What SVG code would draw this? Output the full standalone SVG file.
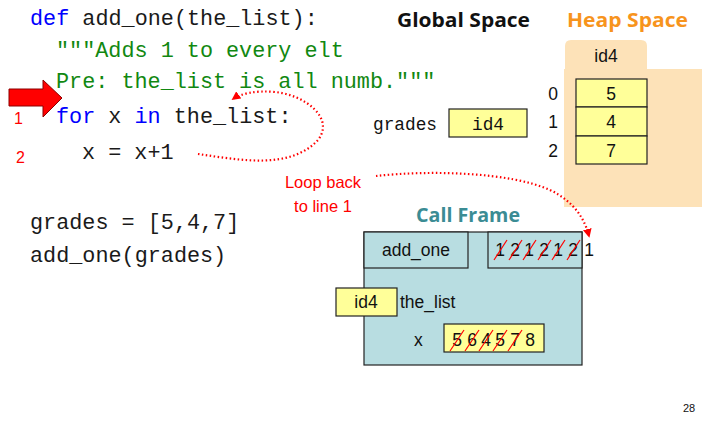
<svg xmlns="http://www.w3.org/2000/svg" width="702" height="429" viewBox="0 0 702 429">
  <style>
    .code { font-family: "Liberation Mono", "DejaVu Sans Mono", monospace; font-size: 21.8px; fill: #1a1a1a; }
    .kw { fill: #0000ff; }
    .doc { fill: #118811; }
    .sans { font-family: "Liberation Sans", Arial, sans-serif; }
    .title { font-family: "Open Sans", "Liberation Sans", sans-serif; font-weight: bold; font-size: 19px; }
    .lbl { font-family: "Liberation Sans", Arial, sans-serif; font-size: 17.5px; fill: #111; }
    .mono16 { font-family: "Liberation Mono", "DejaVu Sans Mono", monospace; font-size: 17.8px; fill: #111; }
    .cell { fill: #ffff99; stroke: #222; stroke-width: 1.2; }
    .frame { fill: #b8dde1; stroke: #222; stroke-width: 1.2; }
    .red { fill: #ff0000; }
    .dots { fill: none; stroke: #ff0000; stroke-width: 2.2; stroke-dasharray: 1.5 2.5; }
    .slash { stroke: #ff0000; stroke-width: 1.2; }
  </style>
  <defs>
    <marker id="tip" viewBox="0 0 10 10" refX="8" refY="5" markerWidth="4" markerHeight="4" orient="auto">
      <path d="M0,0 L10,5 L0,10 z" fill="#ff0000"/>
    </marker>
  </defs>

  <rect width="702" height="429" fill="#ffffff"/>

  <!-- source code -->
  <g id="code">
    <text class="code" x="30" y="25"><tspan class="kw">def</tspan> add_one(the_list):</text>
    <text class="code doc" x="56" y="57">"""Adds 1 to every elt</text>
    <text class="code doc" x="56" y="88">Pre: the_list is all numb."""</text>
    <text class="code" x="56" y="123"><tspan class="kw">for</tspan> x <tspan class="kw">in</tspan> the_list:</text>
    <text class="code" x="82" y="159">x = x+1</text>
    <text class="code" x="30" y="229">grades = [5,4,7]</text>
    <text class="code" x="30" y="262">add_one(grades)</text>
    <text class="sans red" x="14" y="124" font-size="16">1</text>
    <text class="sans red" x="16" y="163" font-size="16">2</text>
  </g>

  <!-- current-line pointer -->
  <g id="pointer">
    <polygon points="9,89 43,89 43,80 62,98 43,117 43,106 9,106" fill="#ff0000" stroke="#8b0000" stroke-width="1"/>
  </g>

  <!-- section titles -->
  <g id="titles">
    <text class="title" x="397" y="27" fill="#111" textLength="133" lengthAdjust="spacingAndGlyphs">Global  Space</text>
    <text class="title" x="567" y="27" fill="#f7941d" textLength="121" lengthAdjust="spacingAndGlyphs">Heap  Space</text>
    <text class="title" x="416" y="222" fill="#3b8c94" textLength="104" lengthAdjust="spacingAndGlyphs">Call Frame</text>
  </g>

  <!-- heap: list object id4 -->
  <g id="heap">
    <path d="M565,69 L565,46 Q565,40 571,40 L641,40 Q647,40 647,46 L647,69 Z" fill="#fde2b8"/>
    <rect x="564" y="69" width="138" height="138" fill="#fde2b8"/>
    <text class="lbl" x="606" y="62" text-anchor="middle">id4</text>
    <rect class="cell" x="576" y="79" width="71" height="28"/>
    <rect class="cell" x="576" y="107" width="71" height="29"/>
    <rect class="cell" x="576" y="136" width="71" height="28"/>
    <text class="lbl" x="611" y="100" text-anchor="middle">5</text>
    <text class="lbl" x="611" y="128" text-anchor="middle">4</text>
    <text class="lbl" x="611" y="157" text-anchor="middle">7</text>
    <text class="lbl" x="553" y="100" text-anchor="middle">0</text>
    <text class="lbl" x="553" y="128" text-anchor="middle">1</text>
    <text class="lbl" x="553" y="157" text-anchor="middle">2</text>
  </g>

  <!-- global variable grades -->
  <g id="global-grades">
    <text class="mono16" x="373" y="130">grades</text>
    <rect class="cell" x="449" y="109" width="78" height="28"/>
    <text class="mono16" x="488" y="130" text-anchor="middle">id4</text>
  </g>

  <!-- call frame for add_one -->
  <g id="frame">
    <rect class="frame" x="364" y="232" width="218" height="133"/>
    <rect class="frame" x="364" y="232" width="104" height="36"/>
    <rect class="frame" x="488" y="232" width="94" height="36"/>
    <text class="lbl" x="416" y="256" text-anchor="middle">add_one</text>
    <g class="lbl">
      <text x="500" y="256" text-anchor="middle">1</text>
      <text x="515" y="256" text-anchor="middle">2</text>
      <text x="529" y="256" text-anchor="middle">1</text>
      <text x="544" y="256" text-anchor="middle">2</text>
      <text x="558" y="256" text-anchor="middle">1</text>
      <text x="573" y="256" text-anchor="middle">2</text>
      <text x="589" y="256" text-anchor="middle">1</text>
    </g>
    <g class="slash">
      <line x1="494" y1="260" x2="507" y2="240"/>
      <line x1="509" y1="260" x2="522" y2="240"/>
      <line x1="523" y1="260" x2="536" y2="240"/>
      <line x1="538" y1="260" x2="551" y2="240"/>
      <line x1="552" y1="260" x2="565" y2="240"/>
      <line x1="567" y1="260" x2="580" y2="240"/>
    </g>

    <rect class="cell" x="336" y="288" width="61" height="28"/>
    <text class="lbl" x="366" y="308" text-anchor="middle">id4</text>
    <text class="lbl" x="400" y="308">the_list</text>

    <text class="lbl" x="414" y="346">x</text>
    <rect class="cell" x="444" y="324" width="100" height="28"/>
    <g class="lbl">
      <text x="457" y="346" text-anchor="middle">5</text>
      <text x="472" y="346" text-anchor="middle">6</text>
      <text x="486" y="346" text-anchor="middle">4</text>
      <text x="500" y="346" text-anchor="middle">5</text>
      <text x="515" y="346" text-anchor="middle">7</text>
      <text x="530" y="346" text-anchor="middle">8</text>
    </g>
    <g class="slash">
      <line x1="450" y1="351" x2="464" y2="330"/>
      <line x1="465" y1="351" x2="479" y2="330"/>
      <line x1="479" y1="351" x2="493" y2="330"/>
      <line x1="493" y1="351" x2="507" y2="330"/>
      <line x1="508" y1="351" x2="522" y2="330"/>
    </g>
  </g>

  <!-- annotation -->
  <g id="loop-note">
    <text class="sans red" x="323" y="188" font-size="16.5" text-anchor="middle">Loop back</text>
    <text class="sans red" x="323" y="212" font-size="16.5" text-anchor="middle">to line 1</text>
  </g>

  <!-- dotted connectors -->
  <g id="connectors">
    <path class="dots" d="M198,154 C240,160 290,170 318,140 C335,118 305,95 275,92 C255,90 240,94 233,99" marker-end="url(#tip)"/>
    <path class="dots" d="M376,176 C430,170 510,172 550,190 C575,202 585,220 589,236" marker-end="url(#tip)"/>
  </g>

  <text class="sans" x="683" y="412" font-size="11" fill="#111">28</text>
</svg>
